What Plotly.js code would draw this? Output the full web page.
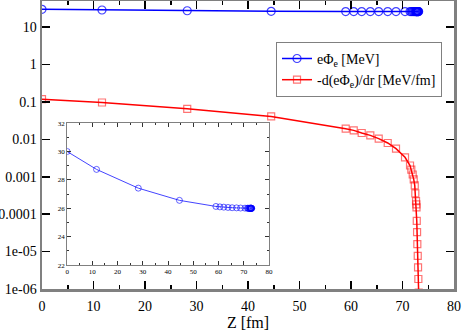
<!DOCTYPE html>
<html>
<head>
<meta charset="utf-8">
<script src="https://cdn.plot.ly/plotly-3.0.1.min.js"></script>
<style>
  html, body { margin: 0; padding: 0; background: #fff; }
  #chart { width: 463px; height: 331px; }
</style>
</head>
<body>
<div id="chart"></div>
<script>
// radial grid, fm
const z = [0, 11.65, 28.2, 44.5, 58.97, 60.53, 62.08, 63.75, 65.38, 67.13, 68.74,
           70.49, 71.46, 71.71, 71.98, 72.18, 72.38, 72.49, 72.63, 72.69, 72.72,
           72.77, 72.83, 72.88, 72.96, 73.02, 73.08, 73.14];
// e*Phi_e, MeV
const phi = [30.0, 28.74, 27.42, 26.56, 26.13, 26.10, 26.08, 26.06, 26.04, 26.03, 26.02,
             26.01, 26.01, 26.0, 26.0, 26.0, 26.0, 26.0, 26.0, 26.0, 26.0,
             26.0, 26.0, 26.0, 26.0, 26.0, 26.0, 26.0];
// -d(e*Phi_e)/dr, MeV/fm
const field = [0.119, 0.0966, 0.0656, 0.041, 0.0193, 0.0174, 0.0148, 0.0128, 0.01045, 0.0080, 0.00566,
               0.00332, 0.0020, 0.00156, 0.00115, 0.00085, 0.00059, 0.00036, 0.000224, 0.000183, 0.000152,
               6.6e-5, 3.3e-5, 1.58e-5, 7.7e-6, 3.8e-6, 1.85e-6, 8e-7];

const yTickVals = [1e-6, 1e-5, 1e-4, 1e-3, 1e-2, 0.1, 1, 10];
const yTickText = ['1e-06', '1e-05', '0.0001', '0.001', '0.01', '0.1', '1', '10'];

const SERIF = 'Liberation Serif, Times New Roman, serif';
const AX = '#808080';

const traces = [
    { x: z, y: phi, type: 'scatter', mode: 'lines+markers', name: 'eΦ<sub>e</sub> [MeV]',
      line: { color: '#0000ff', width: 1.5 },
      marker: { symbol: 'circle-open', size: 8, color: 'rgba(0,0,255,0.75)', line: { width: 1.2 } } },
    { x: z, y: field, type: 'scatter', mode: 'lines+markers', name: '-d(eΦ<sub>e</sub>)/dr [MeV/fm]',
      line: { color: '#ff0000', width: 1.5 },
      marker: { symbol: 'square-open', size: 7, color: 'rgba(255,0,0,0.55)', line: { width: 1.2 } } },
    { x: z, y: phi, type: 'scatter', mode: 'lines+markers', xaxis: 'x2', yaxis: 'y2', showlegend: false,
      line: { color: '#4444ff', width: 1 },
      marker: { symbol: 'circle-open', size: 6, color: 'rgba(0,0,255,0.6)', line: { width: 1 } } }
];

const layout = {
    width: 463, height: 331,
    margin: { l: 42, r: 9, t: 1, b: 42 },
    paper_bgcolor: '#fff', plot_bgcolor: '#fff',
    font: { family: SERIF, size: 14, color: '#000' },
    showlegend: true,
    legend: {
        x: 0.568, y: 0.858, xanchor: 'left', yanchor: 'top',
        bgcolor: '#fff', bordercolor: AX, borderwidth: 1, itemwidth: 30,
        font: { family: SERIF, size: 14 }, tracegroupgap: 0
    },
    xaxis: {
        range: [0, 80], dtick: 10, showgrid: false, zeroline: false,
        ticks: 'inside', ticklen: 8, tickwidth: 1.5, tickcolor: '#000',
        showline: true, linecolor: AX, linewidth: 2.5, mirror: 'allticks',
        ticklabelstandoff: 3,
        minor: { dtick: 5, ticks: 'inside', ticklen: 4, tickwidth: 1.5, tickcolor: '#000' },
        title: { text: 'Z [fm]', font: { family: SERIF, size: 16 }, standoff: 2 }
    },
    yaxis: {
        type: 'log', range: [-6, Math.log10(50)], showgrid: false, zeroline: false,
        tickvals: yTickVals, ticktext: yTickText,
        ticks: 'inside', ticklen: 8, tickwidth: 1.5, tickcolor: '#000',
        showline: true, linecolor: AX, linewidth: 2.5, mirror: 'allticks'
    },
    xaxis2: {
        domain: [0.061, 0.551], anchor: 'y2', range: [0, 80], dtick: 10,
        showgrid: false, zeroline: false,
        ticks: 'inside', ticklen: 4, tickwidth: 1, tickcolor: '#333',
        showline: true, linecolor: AX, linewidth: 1, mirror: 'allticks',
        minor: { dtick: 5, ticks: 'inside', ticklen: 2, tickwidth: 1, tickcolor: '#333' },
        tickfont: { family: SERIF, size: 7 }
    },
    yaxis2: {
        domain: [0.083, 0.576], anchor: 'x2', range: [22, 32], dtick: 2,
        showgrid: false, zeroline: false,
        ticks: 'inside', ticklen: 4, tickwidth: 1, tickcolor: '#333',
        showline: true, linecolor: AX, linewidth: 1, mirror: 'allticks',
        minor: { dtick: 1, ticks: 'inside', ticklen: 2, tickwidth: 1, tickcolor: '#333' },
        tickfont: { family: SERIF, size: 7 }
    }
};

Plotly.newPlot('chart', traces, layout, { displayModeBar: false, staticPlot: true });
</script>
</body>
</html>
